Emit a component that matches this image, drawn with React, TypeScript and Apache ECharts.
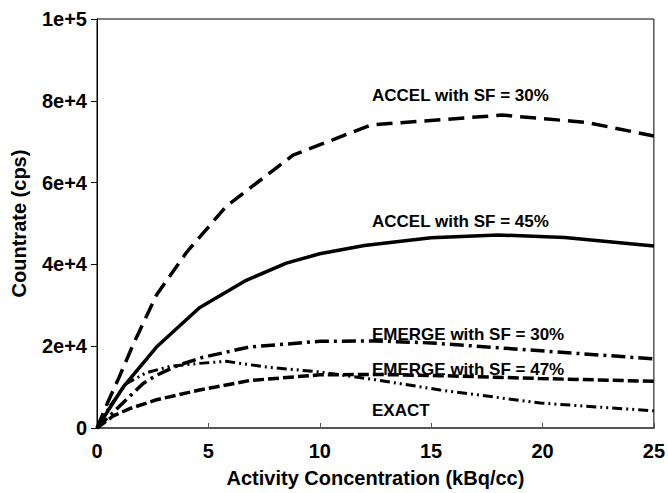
import React, { useEffect, useRef } from "react";
import * as echarts from "echarts";

const accel30: [number, number][] = [
  [0, 0], [0.5, 6500], [1, 12500], [1.63, 20500], [2.67, 32500], [4, 42800],
  [5.8, 54200], [8.8, 66700], [12.3, 74100], [18.2, 76500], [22, 74700], [25, 71400],
];
const accel45: [number, number][] = [
  [0, 0], [1.2, 10200], [2.67, 19800], [4.6, 29400], [6.7, 36100], [8.5, 40300],
  [10, 42600], [12, 44600], [15, 46500], [18, 47200], [21, 46600], [25, 44500],
];
const emerge30: [number, number][] = [
  [0, 0], [1.48, 7800], [2.07, 10900], [2.67, 12900], [3.64, 15300], [4.76, 17300],
  [6.85, 19800], [10, 21200], [12.5, 21300], [15, 20800], [20.6, 18600], [25, 16900],
];
const emerge47: [number, number][] = [
  [0, 0], [0.73, 2950], [1.5, 4800], [2.67, 6900], [4.6, 9300], [6.85, 11600],
  [10, 13000], [12.5, 13100], [15.4, 12800], [19.85, 12100], [25, 11400],
];
const exact: [number, number][] = [
  [0, 0], [0.6, 5500], [1.33, 10900], [2.2, 13500], [3.3, 15100], [4.6, 15800],
  [5.8, 16300], [7.6, 14900], [10, 13700], [12.5, 11800], [15.4, 9300], [19.9, 6100], [25, 4200],
];
const seriesLabels = [
  "ACCEL with SF = 30%",
  "ACCEL with SF = 45%",
  "EMERGE with SF = 30%",
  "EMERGE with SF = 47%",
  "EXACT",
];
const yTickLabels: Record<number, string> = {
  0: "0", 20000: "2e+4", 40000: "4e+4", 60000: "6e+4", 80000: "8e+4", 100000: "1e+5",
};

const FONT = "'Liberation Sans', Arial, sans-serif";

export default function App() {
  const ref = useRef<HTMLDivElement>(null);
  useEffect(() => {
    if (!ref.current) return;
    const chart = echarts.init(ref.current, undefined, { renderer: "svg" });
    const mk = (name: string, data: [number, number][], width: number, type: any) => ({
      name,
      type: "line",
      data,
      showSymbol: false,
      smooth: false,
      lineStyle: { color: "#000", width, type, cap: "butt" },
      z: 3,
    });
    const lbl = (text: string, x: number, y: number) => ({
      type: "text",
      left: x,
      top: y,
      style: { text, fill: "#000", font: `bold 17px ${FONT}` },
    });
    chart.setOption({
      animation: false,
      backgroundColor: "#fff",
      grid: { left: 97, right: 13, top: 19, bottom: 57, containLabel: false, show: true, borderColor: "#000", borderWidth: 1 },
      xAxis: {
        type: "value",
        min: 0,
        max: 25,
        interval: 5,
        name: "Activity Concentration (kBq/cc)",
        nameLocation: "middle",
        nameGap: 40,
        nameTextStyle: { fontFamily: FONT, fontWeight: "bold", fontSize: 20, color: "#000" },
        axisLine: { show: true, lineStyle: { color: "#555", width: 2 } },
        axisTick: { show: true, inside: true, length: 5, lineStyle: { color: "#555", width: 1 } },
        axisLabel: { fontFamily: FONT, fontWeight: "bold", fontSize: 20, color: "#000", margin: 13 },
        splitLine: { show: false },
      },
      yAxis: [
        {
          type: "value",
          min: 0,
          max: 100000,
          interval: 20000,
          name: "Countrate (cps)",
          nameLocation: "middle",
          nameGap: 68,
          nameRotate: 90,
          nameTextStyle: { fontFamily: FONT, fontWeight: "bold", fontSize: 20, color: "#000" },
          axisLine: { show: true, lineStyle: { color: "#000", width: 1 } },
          axisTick: { show: true, inside: false, length: 6, lineStyle: { color: "#000" } },
          axisLabel: {
            fontFamily: FONT, fontWeight: "bold", fontSize: 20, color: "#000", margin: 10,
            formatter: (v: number) => yTickLabels[v] ?? String(v),
          },
          splitLine: { show: false },
        },
      ],
      graphic: [
        lbl(seriesLabels[0], 372, 86.5),
        lbl(seriesLabels[1], 372, 213),
        lbl(seriesLabels[2], 372, 326),
        lbl(seriesLabels[3], 372, 361),
        lbl(seriesLabels[4], 372, 401.5),
      ],
      series: [
        mk(seriesLabels[0], accel30, 3.5, [16, 8]),
        mk(seriesLabels[1], accel45, 3.5, "solid"),
        mk(seriesLabels[2], emerge30, 3.5, [14, 5, 3, 5]),
        mk(seriesLabels[3], emerge47, 3.5, [11, 4]),
        mk(seriesLabels[4], exact, 3, [10, 4, 2, 4, 2, 4]),
      ],
    });
    return () => chart.dispose();
  }, []);
  return <div ref={ref} style={{ position: "absolute", left: 0, top: 0, width: 668, height: 493 }} />;
}
